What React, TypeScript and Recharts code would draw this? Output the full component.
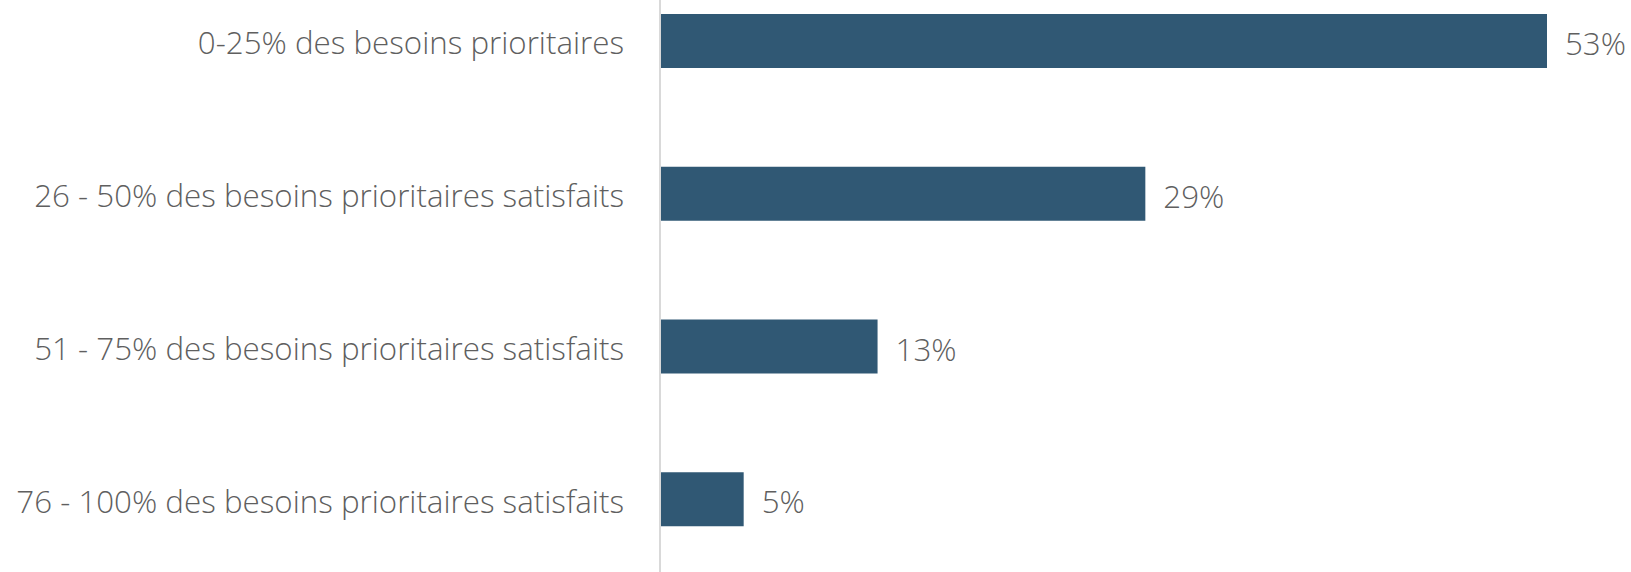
import React from "react";
import { BarChart, Bar, XAxis, YAxis, LabelList } from "recharts";

const categories = [
  "0-25% des besoins prioritaires",
  "26 - 50% des besoins prioritaires satisfaits",
  "51 - 75% des besoins prioritaires satisfaits",
  "76 - 100% des besoins prioritaires satisfaits",
];
const shares = [53, 29, 13, 5];
const xMax = 53;

const data = categories.map((name, i) => ({ name, value: shares[i] }));

const font = "'Open Sans', sans-serif";
const textStyle = { fill: "#5f5f5f", fontSize: 31.3, fontFamily: font, fontWeight: 300 };

const App: React.FC = () => {
  return (
    <div style={{ position: "absolute", left: 0, top: -35 }}>
      <BarChart
        layout="vertical"
        width={1631}
        height={611}
        data={data}
        margin={{ top: 0, right: 84, bottom: 0, left: 0 }}
      >
        <XAxis type="number" domain={[0, xMax]} hide />
        <YAxis
          type="category"
          dataKey="name"
          width={660}
          tickLine={false}
          tickSize={0}
          tickMargin={36}
          axisLine={{ stroke: "#D9D9D9", strokeWidth: 2 }}
          tick={{ ...textStyle, dy: 2 }}
          interval={0}
        />
        <Bar dataKey="value" fill="#305874" barSize={54} isAnimationActive={false}>
          <LabelList
            dataKey="value"
            position="right"
            offset={18}
            formatter={(v: number) => `${v}%`}
            style={textStyle}
            dy={3}
          />
        </Bar>
      </BarChart>
    </div>
  );
};

export default App;
